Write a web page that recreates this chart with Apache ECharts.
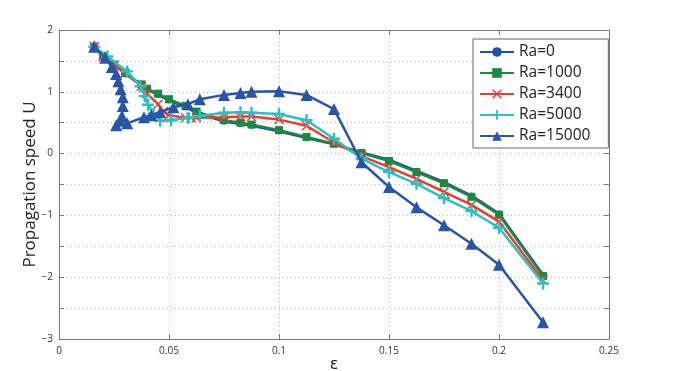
<!DOCTYPE html>
<html lang="en">
<head>
<meta charset="UTF-8">
<title>Propagation speed</title>
<script src="https://cdn.jsdelivr.net/npm/echarts@6/dist/echarts.min.js"></script>
<style>
  html, body { margin: 0; padding: 0; background: #fff; }
  #main { width: 675px; height: 371px; }
</style>
</head>
<body>
<div id="main"></div>
<script>
// series names
var names = ['Ra=0', 'Ra=1000', 'Ra=3400', 'Ra=5000', 'Ra=15000'];

// Ra=0 / Ra=1000 share the same epsilon values
var epsA = [0.016, 0.02, 0.025, 0.03, 0.0375, 0.04, 0.045, 0.05, 0.0575, 0.0625, 0.075, 0.0825, 0.0875, 0.1, 0.1125, 0.125, 0.1375, 0.15, 0.1625, 0.175, 0.1875, 0.2, 0.22];
var ra0 = [1.73, 1.58, 1.44, 1.3, 1.11, 1.04, 0.95, 0.86, 0.75, 0.66, 0.52, 0.48, 0.45, 0.36, 0.25, 0.15, 0.02, -0.1, -0.28, -0.46, -0.68, -0.97, -1.96];
var ra1000 = [1.73, 1.58, 1.44, 1.3, 1.12, 1.05, 0.97, 0.88, 0.77, 0.68, 0.54, 0.5, 0.47, 0.38, 0.27, 0.16, 0.01, -0.12, -0.3, -0.48, -0.7, -0.99, -1.98];

var eps3400 = [0.016, 0.02, 0.025, 0.03, 0.0375, 0.04, 0.045, 0.0475, 0.05, 0.0575, 0.06, 0.0625, 0.075, 0.0825, 0.0875, 0.1, 0.1125, 0.125, 0.1375, 0.15, 0.1625, 0.175, 0.1875, 0.2, 0.22];
var ra3400 = [1.73, 1.57, 1.43, 1.3, 1.09, 0.97, 0.8, 0.68, 0.62, 0.58, 0.58, 0.58, 0.59, 0.6, 0.6, 0.55, 0.45, 0.18, -0.04, -0.22, -0.41, -0.62, -0.83, -1.1, -2.05];

var eps5000 = [0.016, 0.022, 0.031, 0.037, 0.039, 0.0405, 0.043, 0.046, 0.051, 0.0586, 0.064, 0.075, 0.0825, 0.0875, 0.1, 0.1125, 0.125, 0.1375, 0.15, 0.1625, 0.175, 0.1875, 0.2, 0.22];
var ra5000 = [1.73, 1.57, 1.33, 1.09, 0.93, 0.79, 0.65, 0.53, 0.54, 0.58, 0.61, 0.66, 0.67, 0.66, 0.64, 0.54, 0.24, -0.08, -0.3, -0.49, -0.72, -0.93, -1.2, -2.1];

var eps15000 = [0.016, 0.021, 0.024, 0.026, 0.027, 0.028, 0.029, 0.029, 0.0286, 0.0277, 0.026, 0.031, 0.0386, 0.042, 0.046, 0.052, 0.0586, 0.064, 0.075, 0.0825, 0.0875, 0.1, 0.1125, 0.125, 0.1375, 0.15, 0.1625, 0.175, 0.1875, 0.2, 0.22];
var ra15000 = [1.73, 1.55, 1.4, 1.29, 1.17, 1.04, 0.91, 0.77, 0.61, 0.53, 0.46, 0.49, 0.59, 0.62, 0.67, 0.75, 0.8, 0.88, 0.95, 0.98, 1.0, 1.01, 0.95, 0.72, -0.14, -0.54, -0.87, -1.16, -1.46, -1.8, -2.73];

var colors = ['#2350a6', '#198a3f', '#ef3a2f', '#27c2c4', '#2655aa'];

function pairs(xs, ys) {
    return xs.map(function (x, i) { return [x, ys[i]]; });
}

// plus and cross drawn as filled shapes
var plusSym = 'path://M4,0H6V4H10V6H6V10H4V6H0V4H4Z';
var crossSym = 'path://M1,0L5,4L9,0L10,1L6,5L10,9L9,10L5,6L1,10L0,9L4,5L0,1Z';

var myChart = echarts.init(document.getElementById('main'));

var fmtY = function (v) {
    if (Math.abs(v - Math.round(v)) > 1e-6) return '';
    v = Math.round(v);
    return v < 0 ? '\u2212' + Math.abs(v) : String(v);
};

var axisColor = '#7a7a7a';

function mkSeries(i, data, symbol, size) {
    return {
        name: names[i],
        type: 'line',
        data: data,
        symbol: symbol,
        symbolSize: size,
        showSymbol: true,
        lineStyle: { color: colors[i], width: 2.5 },
        itemStyle: { color: colors[i], borderWidth: 0 },
        z: 2 + i
    };
}

var option = {
    animation: false,
    color: colors,
    grid: { left: 59, right: 66, top: 30, bottom: 32, outerBoundsMode: 'none', containLabel: false },
    legend: {
        data: names,
        orient: 'vertical',
        left: 473,
        top: 39,
        padding: [5, 18, 4, 6],
        itemGap: 5,
        itemWidth: 34,
        itemHeight: 12,
        backgroundColor: '#fff',
        borderColor: '#666',
        borderWidth: 1,
        textStyle: { fontFamily: 'Open Sans', fontSize: 15.5, color: '#222' }
    },
    xAxis: [{
        type: 'value',
        min: 0, max: 0.25, interval: 0.05,
        name: 'ε',
        nameLocation: 'middle',
        nameGap: 18,
        nameMoveOverlap: false,
        nameTextStyle: { fontFamily: 'DejaVu Sans', fontSize: 16, color: '#222' },
        axisLine: { onZero: false, lineStyle: { color: axisColor, width: 1 } },
        axisTick: { inside: true, length: 5, lineStyle: { color: axisColor } },
        axisLabel: { fontFamily: 'Open Sans', fontSize: 10, color: '#333', margin: 7,
            formatter: function (v) { return String(+v.toFixed(2)); } },
        splitLine: { show: true, lineStyle: { color: '#b5b5b5', type: [1, 3], width: 1 } }
    }, {
        type: 'value',
        position: 'top',
        min: 0, max: 0.25, interval: 0.05,
        axisLine: { show: true, onZero: false, lineStyle: { color: axisColor, width: 1 } },
        axisTick: { show: true, inside: true, length: 5, lineStyle: { color: axisColor } },
        axisLabel: { show: false },
        splitLine: { show: false }
    }],
    yAxis: [{
        type: 'value',
        min: -3, max: 2, interval: 0.5,
        name: 'Propagation speed U',
        nameLocation: 'middle',
        nameGap: 20,
        nameMoveOverlap: false,
        nameTextStyle: { fontFamily: 'Open Sans', fontSize: 17, color: '#222' },
        axisLine: { show: true, onZero: false, lineStyle: { color: axisColor, width: 1 } },
        axisTick: { show: true, inside: true, length: 5, lineStyle: { color: axisColor } },
        axisLabel: { fontFamily: 'Open Sans', fontSize: 10, color: '#333', margin: 6, formatter: fmtY },
        splitLine: { show: true, lineStyle: { color: '#b5b5b5', type: [1, 3], width: 1 } }
    }, {
        type: 'value',
        position: 'right',
        min: -3, max: 2, interval: 0.5,
        axisLine: { show: true, onZero: false, lineStyle: { color: axisColor, width: 1 } },
        axisTick: { show: true, inside: true, length: 5, lineStyle: { color: axisColor } },
        axisLabel: { show: false },
        splitLine: { show: false }
    }],
    series: [
        mkSeries(0, pairs(epsA, ra0), 'circle', 6),
        mkSeries(1, pairs(epsA, ra1000), 'rect', 8),
        mkSeries(2, pairs(eps3400, ra3400), crossSym, 10),
        mkSeries(3, pairs(eps5000, ra5000), plusSym, 12),
        mkSeries(4, pairs(eps15000, ra15000), 'triangle', 12)
    ]
};

myChart.setOption(option);
</script>
</body>
</html>
